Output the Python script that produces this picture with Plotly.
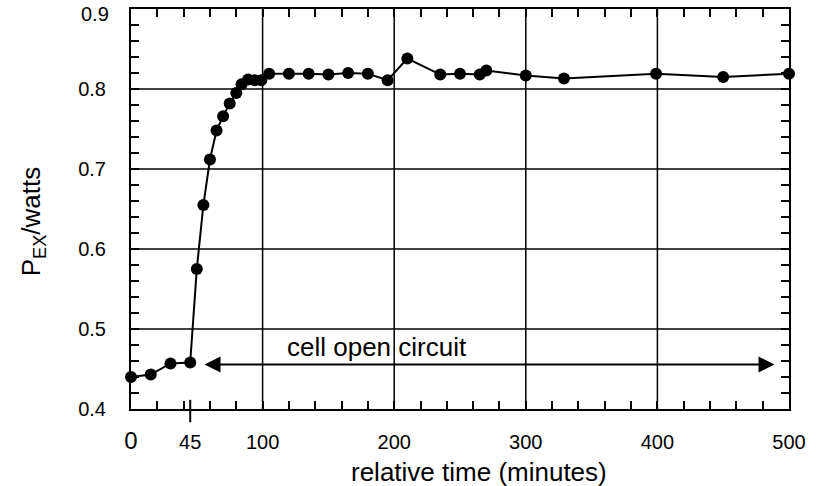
import plotly.graph_objects as go

# data
time_min = [0, 15, 30, 45, 50, 55, 60, 65, 70, 75, 80, 84, 89, 94, 99, 105,
            120, 135, 150, 165, 180, 195, 210, 235, 250, 265, 270, 300, 329,
            399, 450, 500]
power_w = [0.440, 0.443, 0.457, 0.458, 0.575, 0.655, 0.712, 0.748, 0.766,
           0.782, 0.795, 0.806, 0.812, 0.811, 0.811, 0.819, 0.819, 0.819,
           0.818, 0.820, 0.819, 0.811, 0.838, 0.818, 0.819, 0.818, 0.823,
           0.817, 0.813, 0.819, 0.815, 0.819]

x_tickvals = [0, 45, 100, 200, 300, 400, 500]
x_ticktext = ['<span style="font-size:24px">0</span>', '45', '100', '200', '300', '400', '500']
y_tickvals = [0.4, 0.5, 0.6, 0.7, 0.8]
y_ticktext = ['0.4', '0.5', '0.6', '0.7', '0.8']
y_top_value, y_top_label = 0.9, '0.9'
open_start, open_end, open_level = 54.7, 489, 0.4556
label_x, label_y = 187, 0.478
switch_time = 45

FONT = "Liberation Sans, Arial, Helvetica, sans-serif"

fig = go.Figure()
fig.add_trace(go.Scatter(
    x=time_min, y=power_w, mode="lines+markers",
    line=dict(color="black", width=2),
    marker=dict(color="black", size=12, symbol="circle"),
    cliponaxis=False, showlegend=False,
))

fig.update_xaxes(
    range=[0, 500], tickvals=x_tickvals, ticktext=x_ticktext, automargin=False,
    showgrid=False, ticks="inside", ticklen=0.1, tickcolor="rgba(0,0,0,0)",
    showline=True, linecolor="black", linewidth=2, ticklabeloverflow="allow",
    mirror="allticks", zeroline=False, ticklabelstandoff=14,
    tickfont=dict(family=FONT, size=20, color="black"),
    minor=dict(dtick=20, tick0=0, ticks="inside", ticklen=8, tickwidth=1.5,
               tickcolor="black", showgrid=False),
)
fig.update_yaxes(
    range=[0.4, 0.9], tickvals=y_tickvals, ticktext=y_ticktext, automargin=False,
    showgrid=False, ticks="inside", ticklen=0.1, tickcolor="rgba(0,0,0,0)",
    showline=True, linecolor="black", linewidth=2, ticklabeloverflow="allow",
    mirror="allticks", zeroline=False, ticklabelstandoff=19,
    tickfont=dict(family=FONT, size=20, color="black"),
    minor=dict(dtick=0.02, tick0=0.4, ticks="inside", ticklen=8, tickwidth=1.5,
               tickcolor="black", showgrid=False),
)

shapes = []
for gx in [100, 200, 300, 400]:
    shapes.append(dict(type="line", xref="x", yref="paper", x0=gx, x1=gx, y0=0, y1=1,
                       line=dict(color="black", width=1.5), layer="below"))
for gy in [0.5, 0.6, 0.7, 0.8]:
    shapes.append(dict(type="line", xref="paper", yref="y", x0=0, x1=1, y0=gy, y1=gy,
                       line=dict(color="black", width=1.5), layer="below"))
# the special tick at 45 crossing the axis
shapes.append(dict(type="line", xref="x", yref="paper", x0=switch_time, x1=switch_time,
                   y0=-0.033, y1=0.023, line=dict(color="black", width=2)))

annotations = [
    dict(x=open_end, y=open_level, ax=open_start, ay=open_level, xref="x", yref="y",
         axref="x", ayref="y", text="", showarrow=True, arrowhead=2, startarrowhead=2,
         arrowside="end+start", arrowsize=1.6, arrowwidth=2, arrowcolor="black"),
    dict(x=label_x, y=label_y, xref="x", yref="y", text="cell open circuit",
         xanchor="center", yanchor="middle",
         showarrow=False, font=dict(family=FONT, size=26, color="black")),
    dict(x=0.529, y=-0.1575, xref="paper", yref="paper", text="relative time (minutes)",
         xanchor="center", yanchor="middle",
         showarrow=False, font=dict(family=FONT, size=26, color="black")),
    dict(x=-0.150, y=0.47, xref="paper", yref="paper", text="P<sub>EX</sub>/watts",
         xanchor="center", yanchor="middle",
         textangle=-90, showarrow=False, font=dict(family=FONT, size=26, color="black")),
    # top y label, nudged down slightly as in the reference so it stays inside the page
    dict(x=0, y=y_top_value, xref="paper", yref="y", text=y_top_label, xanchor="right",
         yanchor="middle", xshift=-20, yshift=-5, showarrow=False,
         font=dict(family=FONT, size=20, color="black")),
]

fig.update_layout(
    width=816, height=486,
    margin=dict(l=131, r=27, t=9, b=77, autoexpand=False),
    paper_bgcolor="white", plot_bgcolor="white",
    shapes=shapes, annotations=annotations,
    font=dict(family=FONT, color="black"),
)

# remove the default page margin so the 816x486 figure fills the window exactly
fig.write_html("out.html", config={"displayModeBar": False},
               post_script="document.body.style.margin='0';")
